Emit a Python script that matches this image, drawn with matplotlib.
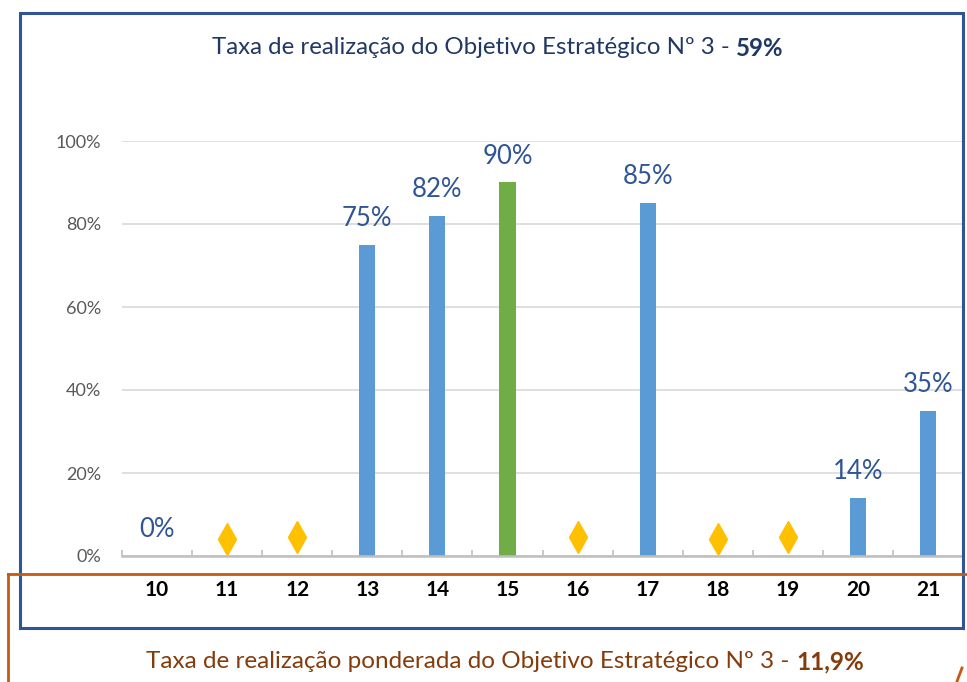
import matplotlib.pyplot as plt
from matplotlib.patches import Rectangle
from matplotlib.lines import Line2D

plt.rcParams["font.family"] = ["Lato", "DejaVu Sans"]

categories = ["10", "11", "12", "13", "14", "15", "16", "17", "18", "19", "20", "21"]
# bar values (None where the category shows a diamond instead of a bar)
bar_values = [0.0, None, None, 0.75, 0.82, 0.90, None, 0.85, None, None, 0.14, 0.35]
bar_colors = ["#5B9BD5", None, None, "#5B9BD5", "#5B9BD5", "#70AD47", None,
              "#5B9BD5", None, None, "#5B9BD5", "#5B9BD5"]
bar_labels = ["0%", None, None, "75%", "82%", "90%", None, "85%", None, None, "14%", "35%"]
diamond_cats = ["11", "12", "16", "18", "19"]
diamond_values = [0.042, 0.046, 0.046, 0.042, 0.046]
yticks = [0, 0.2, 0.4, 0.6, 0.8, 1.0]
ytick_labels = ["0%", "20%", "40%", "60%", "80%", "100%"]

title_main = "Taxa de realização do Objetivo Estratégico Nº 3 - "
title_bold = "59%"
footer_main = "Taxa de realização ponderada do Objetivo Estratégico Nº 3 - "
footer_bold = "11,9%"

W, H = 967, 682
fig = plt.figure(figsize=(W / 100, H / 100), dpi=100)


def fx(px):
    return px / W


def fy(py):
    return 1 - py / H


ax = fig.add_axes([fx(122), fy(556), fx(963) - fx(122), fy(141) - fy(556)])
xs = list(range(len(categories)))

for x, v, c, lab in zip(xs, bar_values, bar_colors, bar_labels):
    if v is None:
        continue
    ax.bar(x, v, width=0.23, color=c, zorder=3)
    ax.annotate(lab, (x, v), xytext=(0, 19), textcoords="offset points",
                ha="center", va="center", fontsize=18.5, color="#2F5597",
                annotation_clip=False)

dx = [categories.index(c) for c in diamond_cats]
ax.plot(dx, diamond_values, linestyle="none", marker="d", markersize=16,
        color="#FFC000", zorder=4, clip_on=False)

ax.set_xlim(-0.5, len(categories) - 0.5)
ax.set_ylim(0, 1.0)
ax.set_yticks(yticks)
ax.set_yticklabels(ytick_labels)
ax.set_xticks(xs)
ax.set_xticklabels(categories, fontweight="bold", fontsize=15, color="black")
ax.set_xticks([i - 0.5 for i in range(len(categories) + 1)], minor=True)
ax.tick_params(axis="x", which="major", length=0, pad=17)
ax.tick_params(axis="x", which="minor", direction="in", length=4, width=1.2,
               color="#BFBFBF")
ax.tick_params(axis="y", length=0, pad=15, labelsize=13, labelcolor="#595959")
ax.grid(axis="y", color="#D9D9D9", linewidth=1.2, zorder=0)
for side in ["top", "right", "left"]:
    ax.spines[side].set_visible(False)
ax.spines["bottom"].set_color("#BFBFBF")
ax.spines["bottom"].set_linewidth(1.8)
ax.spines["bottom"].set_zorder(5)

# frames
fig.patches.append(Rectangle((fx(20), fy(628)), fx(963) - fx(20), fy(13) - fy(628),
                             transform=fig.transFigure, fill=False,
                             edgecolor="#2F5597", linewidth=2.2))
fig.lines.append(Line2D([fx(8), fx(8)], [fy(574), fy(690)], transform=fig.transFigure,
                        color="#C55A11", linewidth=2))
fig.lines.append(Line2D([fx(8), fx(975)], [fy(574), fy(574)], transform=fig.transFigure,
                        color="#C55A11", linewidth=2))
fig.lines.append(Line2D([fx(956), fx(962)], [fy(684), fy(668)], transform=fig.transFigure,
                        color="#C55A11", linewidth=2))


def two_part_text(cx, cy, normal, bold, color, size):
    t1 = fig.text(0, fy(cy), normal, ha="left", va="center", fontsize=size, color=color)
    t2 = fig.text(0, fy(cy), bold, ha="left", va="center", fontsize=size, color=color,
                  fontweight="bold")
    r = fig.canvas.get_renderer()
    w1 = t1.get_window_extent(r).width
    w2 = t2.get_window_extent(r).width
    start = cx - (w1 + w2) / 2
    t1.set_x(fx(start))
    t2.set_x(fx(start + w1))


two_part_text(498, 48, title_main, title_bold, "#203864", 17.3)
two_part_text(505, 662, footer_main, footer_bold, "#843C0C", 17.5)

fig.savefig("out.png", dpi=100)
